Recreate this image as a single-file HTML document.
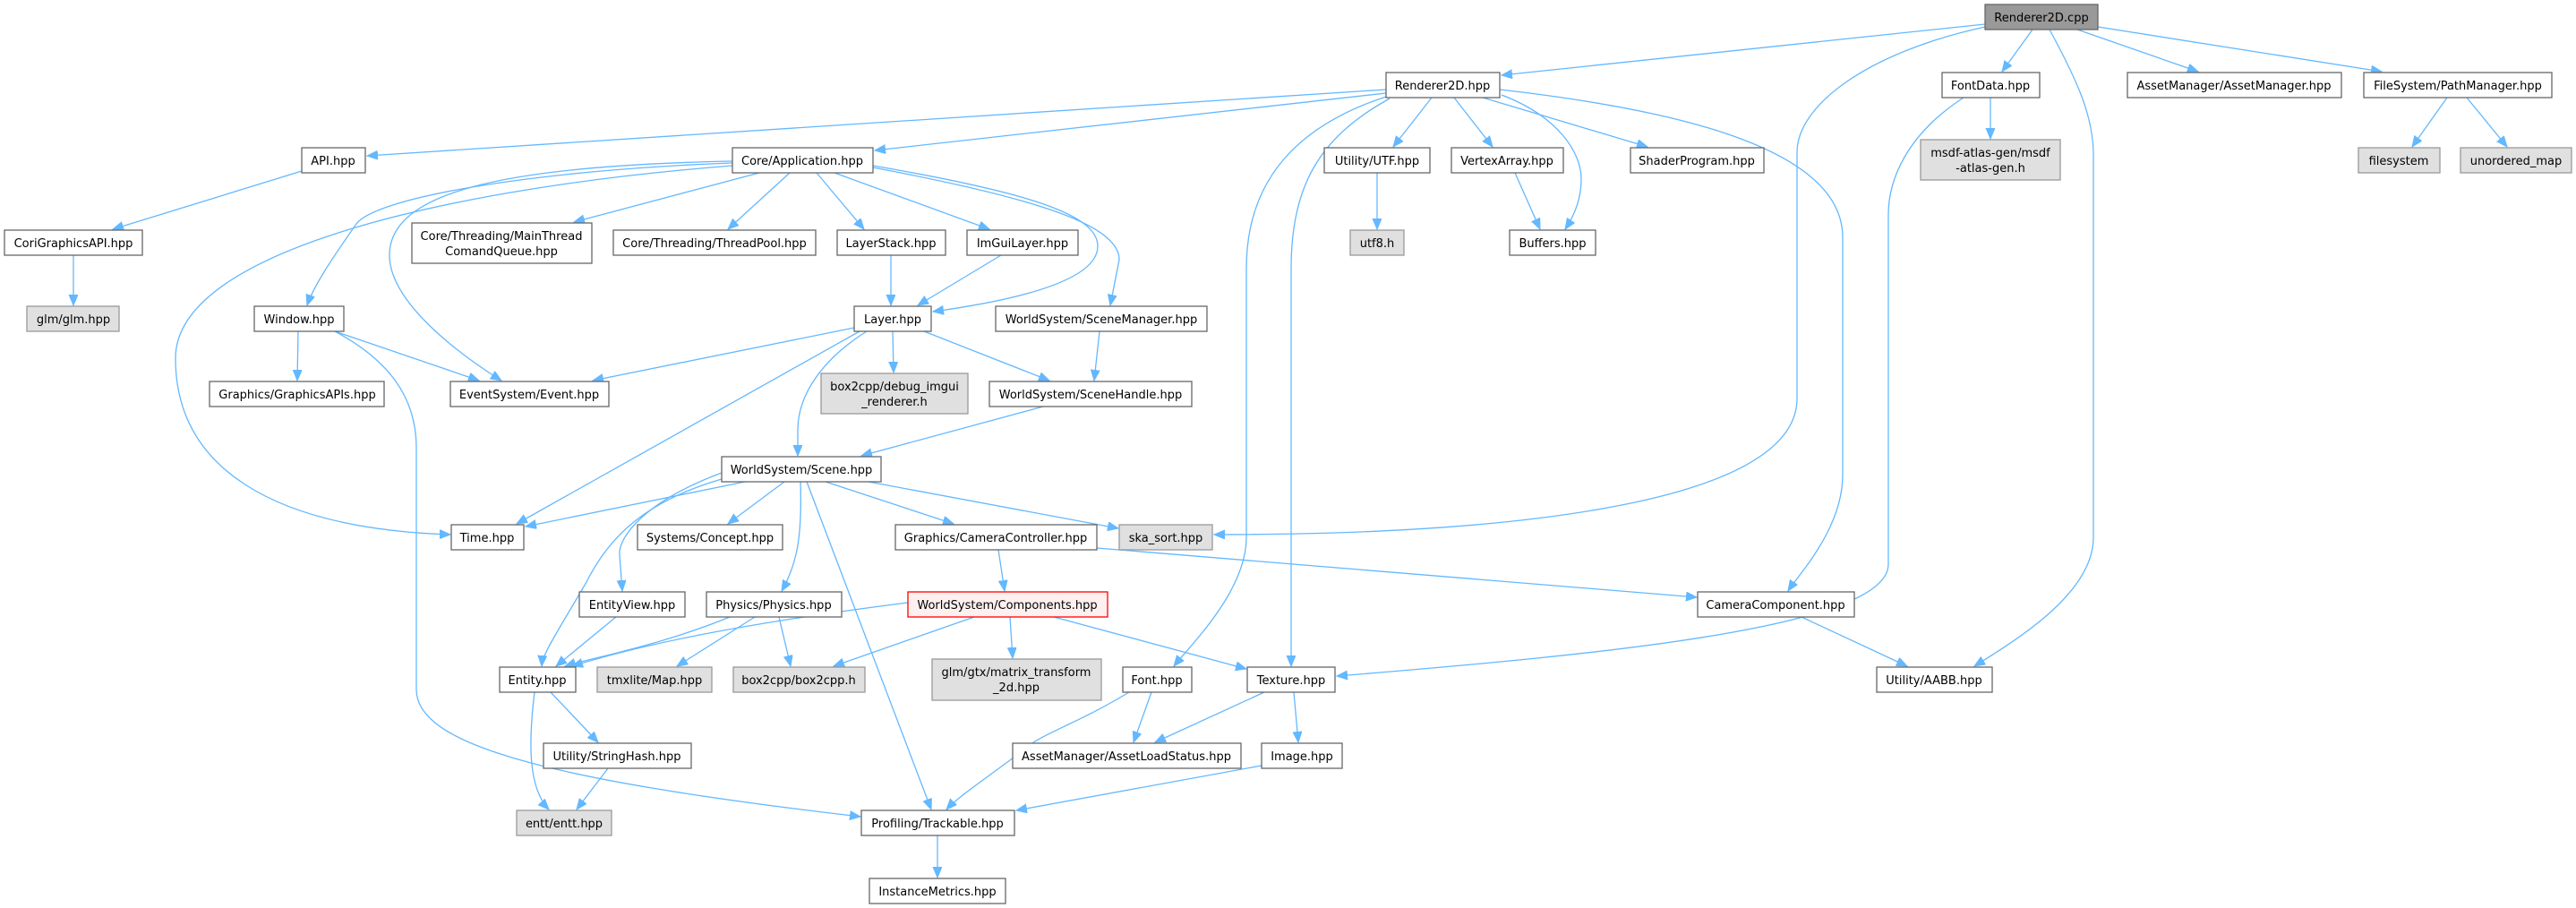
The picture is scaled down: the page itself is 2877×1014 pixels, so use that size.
<!DOCTYPE html>
<html><head><meta charset="utf-8"><style>
html,body{margin:0;padding:0;background:#fff;}
svg{display:block;}
text{font-family:"DejaVu Sans","Liberation Sans",sans-serif;font-size:13px;fill:#000;text-anchor:middle;}
.e{fill:none;stroke:#63b8ff;stroke-width:1.3;marker-end:url(#a);}
.n{fill:#fff;stroke:#666;stroke-width:1.3;}
.g{fill:#e0e0e0;stroke:#999;stroke-width:1.3;}
</style></head><body>
<svg width="2877" height="1014" viewBox="0 0 2877 1014" xmlns="http://www.w3.org/2000/svg">
<defs><marker id="a" markerUnits="userSpaceOnUse" markerWidth="14" markerHeight="12" refX="12" refY="5" orient="auto"><path d="M0,0 L12,5 L0,10 Z" fill="#63b8ff" stroke="#63b8ff"/></marker></defs>

<!-- edges -->
<path class="e" d="M2217,27 L1677,84"/>
<path class="e" d="M2270,33 L2236,80"/>
<path class="e" d="M2320,33 L2455,80"/>
<path class="e" d="M2343,30 L2660,80"/>
<path class="e" d="M2217,30 C2080,60 2007,120 2007,170 L2007,445 C2007,560 1700,597 1356,597"/>
<path class="e" d="M2289,33 C2320,90 2338,130 2338,173 L2338,600 C2338,660 2260,710 2205,744"/>
<path class="e" d="M1548,100 L410,174"/>
<path class="e" d="M1548,104 L977,168"/>
<path class="e" d="M1599,109 L1556,164"/>
<path class="e" d="M1624,109 L1667,164"/>
<path class="e" d="M1656,109 L1840,164"/>
<path class="e" d="M1538,193 L1538,256"/>
<path class="e" d="M1692,193 L1720,256"/>
<path class="e" d="M1677,106 C1740,130 1766,170 1766,200 C1766,230 1752,250 1748,256"/>
<path class="e" d="M1675,100 C1850,120 2058,160 2058,265 L2058,530 C2058,590 2010,640 1997,660"/>
<path class="e" d="M1548,108 C1450,140 1392,200 1392,300 L1392,600 C1392,660 1330,720 1311,744"/>
<path class="e" d="M1552,110 C1480,150 1442,200 1442,300 L1442,744"/>
<path class="e" d="M2223,109 L2223,155"/>
<path class="e" d="M2193,109 C2130,150 2109,200 2109,240 L2109,630 C2109,700 1800,730 1493,755"/>
<path class="e" d="M2733,109 L2694,164"/>
<path class="e" d="M2755,109 L2800,164"/>
<path class="e" d="M337,191 L126,256"/>
<path class="e" d="M82,285 L82,341"/>
<path class="e" d="M848,193 L641,248"/>
<path class="e" d="M882,193 L813,256"/>
<path class="e" d="M912,193 L965,256"/>
<path class="e" d="M932,193 L1105,256"/>
<path class="e" d="M975,185 C1150,215 1226,240 1226,275 C1226,320 1100,340 1042,348"/>
<path class="e" d="M975,187 C1150,220 1250,250 1250,290 L1240,341"/>
<path class="e" d="M818,182 C600,190 420,220 398,250 C370,290 350,320 343,341"/>
<path class="e" d="M818,180 C560,185 435,215 435,285 C435,340 520,400 560,425"/>
<path class="e" d="M818,185 C500,210 196,280 196,400 C196,520 300,590 503,597"/>
<path class="e" d="M333,370 L332,425"/>
<path class="e" d="M374,370 L535,425"/>
<path class="e" d="M374,370 C430,400 465,440 465,500 L465,770 C465,830 600,870 961,912"/>
<path class="e" d="M995,285 L995,341"/>
<path class="e" d="M1118,285 L1025,341"/>
<path class="e" d="M954,366 L662,425"/>
<path class="e" d="M997,370 L998,416"/>
<path class="e" d="M1032,370 L1172,425"/>
<path class="e" d="M968,370 C920,400 891,440 891,480 L891,509"/>
<path class="e" d="M960,370 L577,585"/>
<path class="e" d="M1228,370 L1222,425"/>
<path class="e" d="M1165,454 L962,509"/>
<path class="e" d="M832,538 L587,588"/>
<path class="e" d="M876,538 L813,585"/>
<path class="e" d="M806,528 C720,560 690,600 692,620 L695,660"/>
<path class="e" d="M894,538 C896,600 890,630 873,660"/>
<path class="e" d="M806,535 C720,560 680,600 655,650 C620,710 606,730 605,744"/>
<path class="e" d="M901,538 L1040,904"/>
<path class="e" d="M922,538 L1065,585"/>
<path class="e" d="M970,538 L1249,590"/>
<path class="e" d="M688,689 L621,744"/>
<path class="e" d="M815,689 C740,720 660,735 631,744"/>
<path class="e" d="M843,689 L756,744"/>
<path class="e" d="M870,689 L883,744"/>
<path class="e" d="M1014,673 C800,700 700,725 639,744"/>
<path class="e" d="M1088,689 L931,744"/>
<path class="e" d="M1128,689 L1131,735"/>
<path class="e" d="M1177,689 L1392,747"/>
<path class="e" d="M1115,614 L1122,660"/>
<path class="e" d="M1225,612 L1895,667"/>
<path class="e" d="M2012,689 L2130,744"/>
<path class="e" d="M615,773 L668,829"/>
<path class="e" d="M597,773 C590,830 590,880 613,904"/>
<path class="e" d="M679,858 L644,904"/>
<path class="e" d="M1286,773 L1266,829"/>
<path class="e" d="M1261,773 C1200,810 1160,820 1140,840 C1100,870 1070,890 1057,904"/>
<path class="e" d="M1412,773 L1290,829"/>
<path class="e" d="M1445,773 L1450,829"/>
<path class="e" d="M1409,855 L1135,905"/>
<path class="e" d="M1047,933 L1047,980"/>

<!-- nodes -->
<rect x="2217" y="5" width="126" height="28" fill="#999" stroke="#666" stroke-width="1.3"/><text x="2280" y="24">Renderer2D.cpp</text>
<rect class="n" x="1548" y="81" width="127" height="28"/><text x="1611" y="100">Renderer2D.hpp</text>
<rect class="n" x="2169" y="81" width="109" height="28"/><text x="2223" y="100">FontData.hpp</text>
<rect class="n" x="2376" y="81" width="239" height="28"/><text x="2495" y="100">AssetManager/AssetManager.hpp</text>
<rect class="n" x="2640" y="81" width="210" height="28"/><text x="2745" y="100">FileSystem/PathManager.hpp</text>
<rect class="g" x="2145" y="156" width="156" height="45"/><text x="2223" y="175">msdf-atlas-gen/msdf</text><text x="2223" y="192">-atlas-gen.h</text>
<rect class="g" x="2634" y="165" width="91" height="28"/><text x="2679" y="184">filesystem</text>
<rect class="g" x="2748" y="165" width="124" height="28"/><text x="2810" y="184">unordered_map</text>
<rect class="n" x="337" y="165" width="71" height="28"/><text x="372" y="184">API.hpp</text>
<rect class="n" x="818" y="165" width="157" height="28"/><text x="896" y="184">Core/Application.hpp</text>
<rect class="n" x="1479" y="165" width="118" height="28"/><text x="1538" y="184">Utility/UTF.hpp</text>
<rect class="n" x="1621" y="165" width="125" height="28"/><text x="1683" y="184">VertexArray.hpp</text>
<rect class="n" x="1821" y="165" width="149" height="28"/><text x="1895" y="184">ShaderProgram.hpp</text>
<rect class="n" x="5" y="257" width="154" height="28"/><text x="82" y="276">CoriGraphicsAPI.hpp</text>
<rect class="n" x="460" y="249" width="201" height="45"/><text x="560" y="268">Core/Threading/MainThread</text><text x="560" y="285">ComandQueue.hpp</text>
<rect class="n" x="685" y="257" width="226" height="28"/><text x="798" y="276">Core/Threading/ThreadPool.hpp</text>
<rect class="n" x="935" y="257" width="121" height="28"/><text x="995" y="276">LayerStack.hpp</text>
<rect class="n" x="1080" y="257" width="124" height="28"/><text x="1142" y="276">ImGuiLayer.hpp</text>
<rect class="g" x="1508" y="257" width="60" height="28"/><text x="1538" y="276">utf8.h</text>
<rect class="n" x="1686" y="257" width="96" height="28"/><text x="1734" y="276">Buffers.hpp</text>
<rect class="g" x="30" y="342" width="103" height="28"/><text x="82" y="361">glm/glm.hpp</text>
<rect class="n" x="284" y="342" width="100" height="28"/><text x="334" y="361">Window.hpp</text>
<rect class="n" x="954" y="342" width="86" height="28"/><text x="997" y="361">Layer.hpp</text>
<rect class="n" x="1112" y="342" width="236" height="28"/><text x="1230" y="361">WorldSystem/SceneManager.hpp</text>
<rect class="n" x="234" y="426" width="195" height="28"/><text x="332" y="445">Graphics/GraphicsAPIs.hpp</text>
<rect class="n" x="503" y="426" width="177" height="28"/><text x="591" y="445">EventSystem/Event.hpp</text>
<rect class="g" x="917" y="417" width="164" height="45"/><text x="999" y="436">box2cpp/debug_imgui</text><text x="999" y="453">_renderer.h</text>
<rect class="n" x="1105" y="426" width="226" height="28"/><text x="1218" y="445">WorldSystem/SceneHandle.hpp</text>
<rect class="n" x="806" y="510" width="178" height="28"/><text x="895" y="529">WorldSystem/Scene.hpp</text>
<rect class="n" x="504" y="586" width="81" height="28"/><text x="544" y="605">Time.hpp</text>
<rect class="n" x="712" y="586" width="162" height="28"/><text x="793" y="605">Systems/Concept.hpp</text>
<rect class="n" x="1000" y="586" width="225" height="28"/><text x="1112" y="605">Graphics/CameraController.hpp</text>
<rect class="g" x="1250" y="586" width="104" height="28"/><text x="1302" y="605">ska_sort.hpp</text>
<rect class="n" x="647" y="661" width="118" height="28"/><text x="706" y="680">EntityView.hpp</text>
<rect class="n" x="789" y="661" width="151" height="28"/><text x="864" y="680">Physics/Physics.hpp</text>
<rect x="1014" y="661" width="223" height="28" fill="#fff0f0" stroke="#ff0000" stroke-width="1.3"/><text x="1125" y="680">WorldSystem/Components.hpp</text>
<rect class="n" x="1896" y="661" width="175" height="28"/><text x="1983" y="680">CameraComponent.hpp</text>
<rect class="n" x="558" y="745" width="85" height="28"/><text x="600" y="764">Entity.hpp</text>
<rect class="g" x="667" y="745" width="128" height="28"/><text x="731" y="764">tmxlite/Map.hpp</text>
<rect class="g" x="819" y="745" width="147" height="28"/><text x="892" y="764">box2cpp/box2cpp.h</text>
<rect class="g" x="1041" y="736" width="189" height="46"/><text x="1135" y="755">glm/gtx/matrix_transform</text><text x="1135" y="772">_2d.hpp</text>
<rect class="n" x="1254" y="745" width="77" height="28"/><text x="1292" y="764">Font.hpp</text>
<rect class="n" x="1393" y="745" width="98" height="28"/><text x="1442" y="764">Texture.hpp</text>
<rect class="n" x="2096" y="745" width="129" height="28"/><text x="2160" y="764">Utility/AABB.hpp</text>
<rect class="n" x="607" y="830" width="165" height="28"/><text x="689" y="849">Utility/StringHash.hpp</text>
<rect class="n" x="1131" y="830" width="255" height="28"/><text x="1258" y="849">AssetManager/AssetLoadStatus.hpp</text>
<rect class="n" x="1409" y="830" width="90" height="28"/><text x="1454" y="849">Image.hpp</text>
<rect class="g" x="577" y="905" width="106" height="28"/><text x="630" y="924">entt/entt.hpp</text>
<rect class="n" x="962" y="905" width="171" height="28"/><text x="1047" y="924">Profiling/Trackable.hpp</text>
<rect class="n" x="971" y="981" width="152" height="28"/><text x="1047" y="1000">InstanceMetrics.hpp</text>
</svg>
</body></html>
